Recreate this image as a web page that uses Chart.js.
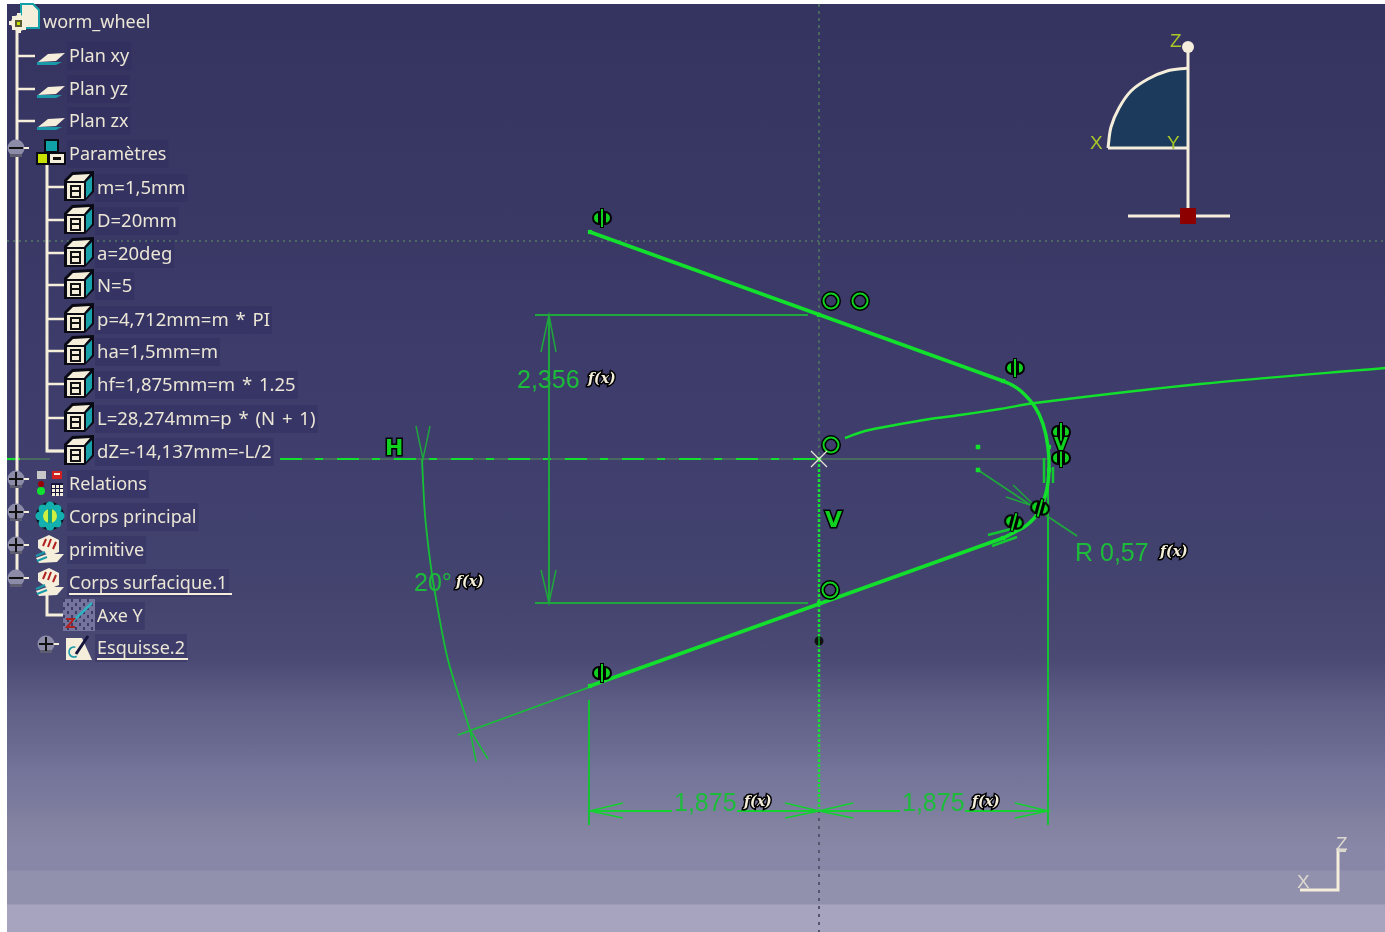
<!DOCTYPE html>
<html>
<head>
<meta charset="utf-8">
<title>worm_wheel</title>
<script src="https://cdn.jsdelivr.net/npm/chart.js@4"></script>
<style>
html, body { margin: 0; background: #fff; overflow: hidden; }
#bg {
  position: absolute; left: 7px; top: 4px; width: 1378px; height: 928px;
  background: linear-gradient(to bottom,
    #35335f 0px, #3a3966 236px, #3f3e6d 456px, #44446f 596px, #4a4a75 656px,
    #5e5e86 700px, #6c6c92 746px, #74749a 766px, #7b7b9e 800px, #82819f 816px,
    #8887a7 846px, #8887a7 866px, #9190ad 867px, #9190ad 900px, #a7a4bf 901px, #a7a4bf 928px);
}
#c { position: absolute; left: 0; top: 0; filter: blur(0.4px); }
</style>
</head>
<body>
<div id="bg"></div>
<canvas id="c" width="1385" height="932"></canvas>
<script>
// sketch profile
const flankTop = [[590,232],[1003,381]];
const flankBottom = [[1003,538],[590,686]];
const rootArc = [[1003,381],[1012,385],[1022,392],[1035,407],[1043,424],[1048,447],[1049,470],[1046,493],[1038,513],[1027,525],[1015,532],[1003,538]];
const helix = [[845,438],[865,431],[895,425],[930,419],[960,415],[1000,409],[1035,403],[1200,384],[1385,368]];

// construction lines
const guideH = [[7,241],[1385,241]];
const guideVTop = [[819,4],[819,459]];
const guideVBottom = [[819,459],[819,810]];
const guideVEnd = [[819,810],[819,932]];
const axisHLeft = [[7,459],[50,459]];
const axisHRight = [[280,459],[819,459]];
const axisHDim = [[280,459],[1050,459]];

// dimension 2,356
const dimV = [[549,315],[549,603]];
const dimTopExt = [[535,315],[808,315]];
const dimBottomExt = [[535,603],[808,603]];
const dimTopArrow = [[541,352],[549,315],[556,352]];
const dimBottomArrow = [[541,570],[549,603],[556,570]];

// dimensions 1,875
const extLeft = [[589,700],[589,825]];
const extRight = [[1048,470],[1048,825]];
const dimLeftA = [[590,811],[672,811]];
const dimLeftB = [[737,811],[819,811]];
const dimRightA = [[819,811],[900,811]];
const dimRightB = [[965,811],[1048,811]];
const arrow1 = [[623,803],[590,811],[623,818]];
const arrow2 = [[785,803],[819,811],[785,818]];
const arrow3 = [[853,803],[819,811],[853,818]];
const arrow4 = [[1015,803],[1048,811],[1015,818]];

// angle 20 deg
const angleArc = [[422,459],[423,480],[425,515],[430,560],[435,593],[448,660],[470,730]];
const angleTopArrow = [[416,426],[423,459],[430,426]];
const angleEndArrow = [[476,762],[470,730],[488,759]];
const angleExt = [[458,735],[590,687]];

// radius
const radiusLeader = [[978,470],[1077,536]];
const radiusArrow = [[1013,485],[1036,507],[1006,497]];
const centres = [[978,447],[978,470]];
const ends = [[590,232],[1003,381],[1049,447],[1049,470],[1003,538],[590,686],[819,315],[819,603],[819,459]];
const parallelA = [[988,535],[1015,528]];
const parallelB = [[992,546],[1017,537]];
const parallelC = [[1044,458],[1044,483]];
const parallelD = [[1053,467],[1053,483]];

// constraint symbols
const tangentMarks = [[602,218],[1015,368],[1061,432],[1061,458],[602,673]];
const tangentTilted = [[1040,508],[1014,522]];
const concentricMarks = [[831,301],[860,301],[831,445],[830,590]];
const blackDot = [[819,641]];
const originCross = [[819,459]];

// compass
const compassArc = [[1108,148],[1111,127],[1119,108],[1131,91],[1148,79],[1167,71],[1188,68]];
const compassBase = [[1108,148],[1188,148]];
const compassMast = [[1188,47],[1188,216]];
const compassFoot = [[1128,216],[1230,216]];
const compassTop = [[1188,47]];
const compassRoot = [[1188,216]];

// small axis
const axisSmall = [[1300,890],[1338,890],[1338,848]];
const axisSmallTick = [[1338,851],[1346,851]];

// specification tree
const treeTop = ['Plan xy','Plan yz','Plan zx','Paramètres'];
const treeTopY = [57,90,122,155];
const treeParams = ['m=1,5mm','D=20mm','a=20deg','N=5','p=4,712mm=m * PI','ha=1,5mm=m','hf=1,875mm=m * 1.25','L=28,274mm=p * (N + 1)','dZ=-14,137mm=-L/2'];
const treeParamsY = [189,222,255,287,321,353,386,420,453];
const treeBodies = ['Relations','Corps principal','primitive','Corps surfacique.1'];
const treeBodiesY = [485,518,551,584];
const treeSub = ['Axe Y','Esquisse.2'];
const treeSubY = [617,649];
const treeMainLine = [[17,30],[17,580]];
const treeParamLine = [[47,165],[47,451],[64,451]];
const treeSubLine = [[47,595],[47,615],[64,615]];
const underlines = [[[69,594],[232,594]],[[97,659],[188,659]]];
const branchXTop = 35, branchXParam = 64;
const planeIcons = [[51,58],[51,91],[51,123]];
const handIcons = [[50,549],[50,582]];
const cubeY = [186,219,252,284,318,350,383,417,450];
const branchTopY = [56,89,121];
const branchParamY = [187,220,253,285,319,351,384,418,451];
const nodesMinus = [[17,149],[17,579]];
const nodesPlus = [[17,480],[17,513],[17,546],[47,645]];

// dimension texts
const dimTexts = ['2,356','20°','R 0,57','1,875','1,875'];
const dimTextX = [517,414,1075,674,902];
const dimTextY = [381,584,554,804,804];
const fxX = [603,471,1175,759,987];
const fxY = [379,582,552,802,802];

const CREAM = '#f4eedb';
const GREEN = '#13e02c';
const DIM = '#1fa63c';

function pts(a) { return a.map(p => ({ x: p[0], y: p[1] })); }
function line(a, color, width, extra) {
  return Object.assign({ type: 'line', data: pts(a), borderColor: color, borderWidth: width, pointRadius: 0, fill: false, tension: 0 }, extra || {});
}
function icon(w, h, draw) {
  const c = document.createElement('canvas');
  c.width = w; c.height = h;
  draw(c.getContext('2d'), w, h);
  return c;
}
function marks(a, style, extra) {
  return Object.assign({ type: 'scatter', data: pts(a), pointStyle: style, pointRadius: 8, showLine: false }, extra || {});
}
function poly(g, p, fill, stroke) {
  g.beginPath();
  p.forEach((q, i) => i ? g.lineTo(q[0], q[1]) : g.moveTo(q[0], q[1]));
  g.closePath();
  if (fill) { g.fillStyle = fill; g.fill(); }
  if (stroke) { g.strokeStyle = stroke; g.stroke(); }
}

const tangentIcon = icon(24, 22, g => {
  g.lineWidth = 2;
  g.strokeStyle = '#000'; g.fillStyle = '#10d020';
  [[7,1],[17,-1]].forEach(s => {
    g.beginPath(); g.arc(s[0] + (s[1] > 0 ? 2 : -2), 11, 6, s[1] > 0 ? Math.PI / 2 : -Math.PI / 2, s[1] > 0 ? Math.PI * 1.5 : Math.PI / 2);
    g.closePath(); g.fill(); g.stroke();
  });
  g.fillStyle = '#000'; g.fillRect(10, 1, 4, 20);
  g.fillStyle = '#10d020'; g.fillRect(11, 2, 2, 18);
});
const concentricIcon = icon(22, 22, g => {
  g.lineWidth = 5; g.strokeStyle = '#000';
  g.beginPath(); g.arc(11, 11, 7.5, 0, 7); g.stroke();
  g.lineWidth = 2; g.strokeStyle = '#10d020';
  g.beginPath(); g.arc(11, 11, 7.5, 0, 7); g.stroke();
});
const dotIcon = icon(12, 12, g => {
  g.fillStyle = '#111'; g.beginPath(); g.arc(6, 6, 4.5, 0, 7); g.fill();
  g.fillStyle = '#0a8020'; g.fillRect(5, 1, 2, 10);
});
const crossIcon = icon(18, 18, g => {
  g.strokeStyle = '#e8e2d4'; g.lineWidth = 1.3;
  g.beginPath(); g.moveTo(1, 1); g.lineTo(17, 17); g.moveTo(17, 1); g.lineTo(1, 17); g.stroke();
});
const planeIcon = icon(30, 14, g => {
  poly(g, [[1,11],[26,11],[20,14],[1,14]], '#1a9aa8');
  poly(g, [[2,11],[12,3],[29,2],[20,10]], CREAM);
});
const cubeIcon = icon(32, 32, g => {
  poly(g, [[1,10],[9,2],[31,1],[31,22],[22,31],[1,31]], '#0a0a14');
  poly(g, [[4,11],[10,5],[27,4],[21,11]], CREAM);
  poly(g, [[23,12],[29,6],[29,21],[23,28]], '#1aa0a8');
  g.fillStyle = CREAM; g.fillRect(4, 13, 17, 16);
  g.fillStyle = '#111'; g.fillRect(7, 15, 11, 2); g.fillRect(7, 20, 11, 2); g.fillRect(7, 26, 11, 2); g.fillRect(7, 15, 2, 13); g.fillRect(16, 15, 2, 13);
});
const paramsIcon = icon(32, 28, g => {
  g.fillStyle = '#0a0a14'; g.fillRect(9, 1, 15, 14); g.fillRect(1, 14, 30, 13);
  g.fillStyle = '#10a0a8'; g.fillRect(11, 3, 11, 10);
  g.fillStyle = '#c8e000'; g.fillRect(3, 16, 9, 9);
  g.fillStyle = CREAM; g.fillRect(15, 16, 14, 9);
  g.fillStyle = '#111'; g.fillRect(18, 19, 8, 3);
});
const relationsIcon = icon(30, 28, g => {
  g.fillStyle = '#c8c8c8'; g.fillRect(2, 2, 9, 8);
  g.fillStyle = '#d02020'; g.fillRect(17, 2, 10, 8);
  g.fillStyle = CREAM; g.fillRect(19, 4, 6, 2);
  g.fillStyle = '#900'; g.beginPath(); g.arc(6, 15, 3, 0, 7); g.fill();
  g.fillStyle = '#10e030'; g.beginPath(); g.arc(6, 22, 4, 0, 7); g.fill();
  g.fillStyle = '#14143c'; g.fillRect(16, 14, 12, 12);
  g.fillStyle = CREAM; for (let i = 0; i < 3; i++) for (let j = 0; j < 3; j++) g.fillRect(17 + i * 4, 16 + j * 4, 3, 3);
});
const bodyIcon = icon(30, 30, g => {
  g.fillStyle = '#0a0a14'; g.beginPath(); g.arc(15, 15, 14, 0, 7); g.fill();
  g.fillStyle = '#14b0b0';
  for (let i = 0; i < 8; i++) { g.beginPath(); g.arc(15 + 10 * Math.cos(i * .785), 15 + 10 * Math.sin(i * .785), 4.5, 0, 7); g.fill(); }
  g.fillStyle = '#d0f040'; g.beginPath(); g.arc(15, 15, 7, 0, 7); g.fill();
  g.fillStyle = '#14a080'; g.fillRect(13, 8, 4, 14);
});
const handIcon = icon(30, 30, g => {
  poly(g, [[3,6],[14,1],[24,6],[24,18],[14,22],[3,14]], CREAM);
  g.strokeStyle = '#b02020'; g.lineWidth = 2;
  g.beginPath(); g.moveTo(8, 12); g.lineTo(11, 5); g.moveTo(13, 13); g.lineTo(16, 5); g.moveTo(18, 15); g.lineTo(21, 8); g.stroke();
  poly(g, [[1,24],[12,20],[29,20],[22,28],[4,29]], CREAM);
  g.strokeStyle = '#1a9aa8'; g.beginPath(); g.moveTo(1, 22); g.lineTo(10, 18); g.moveTo(2, 27); g.lineTo(12, 23); g.stroke();
});
const axeIcon = icon(32, 32, g => {
  g.fillStyle = '#74749c'; g.fillRect(0, 0, 32, 32);
  g.fillStyle = '#3c3c68';
  for (let i = 0; i < 32; i += 4) for (let j = (i % 8); j < 32; j += 8) g.fillRect(i, j, 2, 3);
  g.strokeStyle = '#30b0c0'; g.lineWidth = 2.5; g.beginPath(); g.moveTo(10, 22); g.lineTo(29, 4); g.stroke();
  g.strokeStyle = '#b02020'; g.lineWidth = 2; g.beginPath(); g.moveTo(3, 20); g.lineTo(11, 20); g.lineTo(4, 28); g.lineTo(12, 28); g.stroke();
});
const sketchIcon = icon(30, 28, g => {
  poly(g, [[2,5],[18,5],[28,27],[2,27]], CREAM);
  g.strokeStyle = '#1a9aa8'; g.lineWidth = 1.6; g.beginPath(); g.arc(10, 19, 5, 1, 5); g.stroke();
  g.strokeStyle = '#14143c'; g.lineWidth = 3; g.beginPath(); g.moveTo(12, 21); g.lineTo(24, 3); g.stroke();
});
const docIcon = icon(20, 26, g => {
  g.lineWidth = 2;
  poly(g, [[1,1],[13,1],[19,7],[19,25],[1,25]], CREAM, '#14a0a8');
});
const gearIcon = icon(22, 22, g => {
  g.fillStyle = CREAM;
  g.beginPath(); g.arc(11, 11, 8, 0, 7); g.fill();
  g.fillRect(9, 1, 4, 20); g.fillRect(1, 9, 20, 4); g.fillRect(4, 4, 14, 14);
  g.fillStyle = '#5a5a30'; g.fillRect(7, 8, 7, 7);
  g.fillStyle = '#c8e000'; g.fillRect(9, 10, 3, 3);
});
function nodeIcon(plus) {
  return icon(24, 22, g => {
    g.fillStyle = '#8c8ca8'; g.beginPath(); g.arc(11, 10, 8.5, 0, 7); g.fill();
    g.fillStyle = '#5e5e70'; g.fillRect(5, 16, 12, 3);
    g.fillStyle = '#111'; g.fillRect(4, 9, 14, 2);
    if (plus) g.fillRect(10, 3, 2, 14);
    g.fillStyle = CREAM; g.fillRect(19, 9, 5, 2);
  });
}
const redSquare = icon(16, 16, g => { g.fillStyle = '#8c0000'; g.fillRect(0, 0, 16, 16); });
const whiteDot = icon(14, 14, g => { g.fillStyle = CREAM; g.beginPath(); g.arc(7, 7, 6, 0, 7); g.fill(); });

const branches = branchTopY.map(y => line([[17, y], [branchXTop, y]], CREAM, 2.5));
const paramBranches = branchParamY.map(y => line([[47, y], [branchXParam, y]], CREAM, 2.5));

function fxMark(g, x, y) {
  g.font = 'italic bold 14px "DejaVu Serif"';
  g.lineWidth = 3; g.strokeStyle = '#000'; g.fillStyle = CREAM;
  g.textAlign = 'left'; g.textBaseline = 'middle';
  g.strokeText('f(x)', x - 15, y);
  g.fillText('f(x)', x - 15, y);
}

const textPlugin = {
  id: 'sketchText',
  beforeDatasetsDraw(chart) {
    const g = chart.ctx, sx = chart.scales.x, sy = chart.scales.y;
    g.save();
    g.fillStyle = 'rgba(44,42,92,0.4)';
    const bg = (t, x, y) => g.fillRect(sx.getPixelForValue(x) - 2, sy.getPixelForValue(y) - 15, g.measureText(t).width + 4, 28);
    g.font = '18px "Noto Sans"';
    treeTop.forEach((t, i) => bg(t, 69, treeTopY[i]));
    treeBodies.forEach((t, i) => bg(t, 69, treeBodiesY[i]));
    treeSub.forEach((t, i) => bg(t, 97, treeSubY[i]));
    g.font = '18.5px "Noto Sans"'; g.wordSpacing = '2px';
    treeParams.forEach((t, i) => bg(t, 97, treeParamsY[i]));
    g.restore();
  },
  afterDatasetsDraw(chart) {
    const g = chart.ctx, sx = chart.scales.x, sy = chart.scales.y;
    const put = (t, x, y) => g.fillText(t, sx.getPixelForValue(x), sy.getPixelForValue(y));
    g.save();
    g.textAlign = 'left'; g.textBaseline = 'middle';
    g.font = '18px "Noto Sans"'; g.fillStyle = '#ebe6d6';
    put('worm_wheel', 43, 23);
    treeTop.forEach((t, i) => put(t, 69, treeTopY[i]));
    treeBodies.forEach((t, i) => put(t, 69, treeBodiesY[i]));
    treeSub.forEach((t, i) => put(t, 97, treeSubY[i]));
    g.font = '18.5px "Noto Sans"'; g.wordSpacing = '2px';
    treeParams.forEach((t, i) => put(t, 97, treeParamsY[i]));
    g.wordSpacing = '0px';

    g.font = '25px "Liberation Sans"'; g.fillStyle = '#1cbc3a';
    dimTexts.forEach((t, i) => put(t, dimTextX[i], dimTextY[i]));
    fxX.forEach((x, i) => fxMark(g, sx.getPixelForValue(x), sy.getPixelForValue(fxY[i])));

    g.font = 'bold 22px "DejaVu Sans"'; g.lineWidth = 3; g.strokeStyle = '#000'; g.fillStyle = '#10d020';
    [['H', 385, 449], ['V', 825, 521]].forEach(m => {
      g.strokeText(m[0], sx.getPixelForValue(m[1]), sy.getPixelForValue(m[2]));
      g.fillText(m[0], sx.getPixelForValue(m[1]), sy.getPixelForValue(m[2]));
    });
    g.font = 'bold 18px "DejaVu Sans"';
    g.strokeText('V', sx.getPixelForValue(1054), sy.getPixelForValue(445));
    g.fillText('V', sx.getPixelForValue(1054), sy.getPixelForValue(445));

    g.font = '19px "Liberation Sans"'; g.fillStyle = '#a8c828';
    put('Z', 1170, 42); put('X', 1090, 144); put('Y', 1167, 144);
    g.fillStyle = '#dcd8d0';
    put('X', 1297, 883); put('Z', 1336, 845);
    g.restore();
  }
};

// listed back to front, Chart.js paints the last dataset first
const layers = [
  line(guideH, '#557a66', 1.5, { borderDash: [2, 4] }),
  line(guideVTop, '#4f7a5c', 1.5, { borderDash: [3, 4] }),
  line(guideVEnd, '#55556c', 2, { borderDash: [3, 5] }),
  line(axisHDim, '#4f7a5c', 1.5),
  line(axisHLeft, '#4f7a5c', 1.5),
  line(axisHLeft, GREEN, 2.2, { borderDash: [13, 30] }),
  line(axisHRight, GREEN, 2.2, { borderDash: [22, 13, 8, 14] }),
  line(guideVBottom, '#16e030', 2.5, { borderDash: [3, 2] }),
  line(dimV, DIM, 2), line(dimTopExt, DIM, 2), line(dimBottomExt, DIM, 2),
  line(dimTopArrow, DIM, 1.5), line(dimBottomArrow, DIM, 1.5),
  line(extLeft, '#16c034', 2), line(extRight, '#16c034', 2),
  line(dimLeftA, '#14d030', 2), line(dimLeftB, '#14d030', 2), line(dimRightA, '#14d030', 2), line(dimRightB, '#14d030', 2),
  line(arrow1, '#14d030', 1.6), line(arrow2, '#14d030', 1.6), line(arrow3, '#14d030', 1.6), line(arrow4, '#14d030', 1.6),
  line(angleArc, '#16c034', 1.8, { tension: 0.3 }),
  line(angleTopArrow, DIM, 1.5), line(angleEndArrow, '#16c034', 1.5), line(angleExt, '#16c034', 1.8),
  line(radiusLeader, DIM, 1.7), line(radiusArrow, DIM, 1.5),
  line(parallelA, '#14c832', 2.5), line(parallelB, '#14c832', 2.5), line(parallelC, '#14c832', 2.5), line(parallelD, '#14c832', 2.5),
  line(helix, GREEN, 2.4, { tension: 0.3 }),
  line(flankTop, GREEN, 3.5), line(flankBottom, GREEN, 3.5),
  line(rootArc, GREEN, 3.5, { tension: 0.4 }),
  { type: 'scatter', data: pts(centres), pointStyle: 'rect', pointRadius: 3.2, backgroundColor: GREEN, borderWidth: 0 },
  { type: 'scatter', data: pts(ends), pointStyle: 'rect', pointRadius: 3, backgroundColor: GREEN, borderWidth: 0 },
  marks(tangentMarks, tangentIcon),
  marks(tangentTilted, tangentIcon, { pointRotation: 15 }),
  marks(concentricMarks, concentricIcon),
  marks(blackDot, dotIcon),
  marks(originCross, crossIcon),

  line(compassArc, CREAM, 3, { tension: 0.35, fill: { value: 148 }, backgroundColor: '#1c3a5c' }),
  line(compassBase, CREAM, 3), line(compassMast, CREAM, 3), line(compassFoot, CREAM, 3),
  marks(compassTop, whiteDot), marks(compassRoot, redSquare),
  line(axisSmall, CREAM, 3), line(axisSmallTick, '#dcd8d0', 2),

  line(treeMainLine, CREAM, 3), line(treeParamLine, CREAM, 3), line(treeSubLine, CREAM, 3),
  ...branches, ...paramBranches,
  ...underlines.map(u => line(u, CREAM, 2)),
  marks([[30, 16]], docIcon), marks([[19, 23]], gearIcon),
  marks(planeIcons, planeIcon),
  marks([[51, 152]], paramsIcon),
  marks(cubeY.map(y => [79, y]), cubeIcon),
  marks([[50, 483]], relationsIcon),
  marks([[50, 516]], bodyIcon),
  marks(handIcons, handIcon),
  marks([[79, 615]], axeIcon),
  marks([[79, 647]], sketchIcon),
  marks(nodesMinus, nodeIcon(false)),
  marks(nodesPlus, nodeIcon(true))
];

new Chart(document.getElementById('c'), {
  type: 'scatter',
  data: { datasets: layers.reverse() },
  options: {
    responsive: false,
    animation: false,
    events: [],
    layout: { padding: 0, autoPadding: false },
    plugins: { legend: { display: false }, tooltip: { enabled: false } },
    scales: {
      x: { type: 'linear', min: 0, max: 1385, display: false },
      y: { type: 'linear', min: 0, max: 932, reverse: true, display: false }
    }
  },
  plugins: [textPlugin]
});
</script>
</body>
</html>
